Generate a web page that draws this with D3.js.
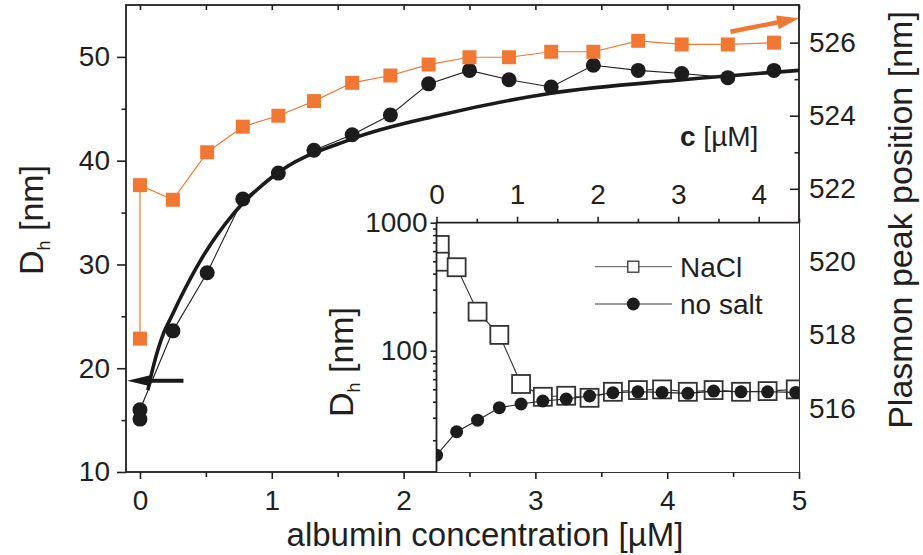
<!DOCTYPE html>
<meta charset="utf-8">
<style>
body{margin:0;background:#fff;}
text{font-family:"Liberation Sans",Arial,Helvetica,sans-serif;fill:#231f20;}
.tl text{font-size:28px;}
.title{font-size:34px;}
.tl line{stroke:#231f20;stroke-width:1.6;}
.tl path{display:none;}
.frame{stroke:#231f20;stroke-width:1.8;fill:none;}
</style>
<body>
<script src="https://d3js.org/d3.v7.min.js"></script>
<script>

// main panel: albumin concentration [uM]
var conc=[0,0,0.25,0.51,0.78,1.05,1.32,1.61,1.90,2.19,2.50,2.80,3.12,3.44,3.78,4.11,4.46,4.81];
var dhNoSalt=[15.1,16.0,23.6,29.2,36.3,38.8,41.0,42.5,44.4,47.4,48.7,47.8,47.1,49.2,48.7,48.4,48.0,48.7];
var plasmon=[517.9,522.1,521.7,523.0,523.7,524.0,524.4,524.9,525.1,525.4,525.6,525.6,525.75,525.75,526.05,525.95,525.95,526.0];
// fit curve
var fitC=[0.06,0.10,0.18,0.24,0.30,0.46,0.71,1.01,1.61,2.28,3.12,4.12,5.0];
var fitD=[17.9,20.1,23.4,25.0,26.6,30.4,34.9,38.5,42.1,44.4,46.5,47.8,48.7];

// inset (log scale)
var insetNaClC=[0.04,0.04,0.25,0.51,0.78,1.05,1.32,1.61,1.90,2.19,2.50,2.80,3.12,3.44,3.78,4.11,4.46];
var insetNaCl=[670,496,449,202,133,55,43.7,44.5,42.9,47.8,49.3,49.9,47.8,49.3,47.8,48.4,49.9];
var insetSaltC=[0,0.25,0.51,0.78,1.05,1.32,1.61,1.90,2.19,2.50,2.80,3.12,3.44,3.78,4.11,4.46];
var insetSalt=[15.3,23.3,28.7,35.9,38.4,40.5,42.0,44.3,47.0,47.8,47.3,46.5,48.4,47.8,47.8,47.3];

// ticks
var xTicks=[0,1,2,3,4,5], xMinor=[0.5,1.5,2.5,3.5,4.5];
var xTop=[0,0.5,1,1.5,2,2.5,3,3.5,4,4.5,5];
var leftTicks=[10,20,30,40,50], leftMinor=[15,25,35,45];
var rightTicks=[516,518,520,522,524,526], rightMinor=[515,517,519,521,523,525];
var insetXTicks=[0,1,2,3,4], insetXMinor=[0.5,1.5,2.5,3.5,4.5];
var insetYTicks=[100,1000], insetYMinor=[20,30,40,50,60,70,80,90,200,300,400,500,600,700,800,900];

// annotation arrows (data units)
var leftArrowX=[0.33,-0.097], leftArrowY=18.8;
var rightArrowX=[4.48,5.0], rightArrowV=[526.3,526.67];

var orange="#f07832";

var svg=d3.select("body").append("svg").attr("width",923).attr("height",555);

var x=d3.scaleLinear().domain([-0.106,5]).range([126,799]);
var yL=d3.scaleLinear().domain([10,55]).range([472,5]);
var yR=d3.scaleLinear().domain([514.25,527.03]).range([472,5]);

var xi=d3.scaleLinear().domain([0,4.5]).range([436.5,799]);
var yi=d3.scaleLog().domain([11.3,1000]).range([472,222.7]);

// ---- main axes
svg.append("g").attr("class","tl").attr("transform","translate(0,472)")
	.call(d3.axisBottom(x).tickValues(xTicks).tickSize(7).tickPadding(11).tickFormat(d3.format("d")));
svg.append("g").attr("class","tl").attr("transform","translate(0,472)")
	.call(d3.axisBottom(x).tickValues(xMinor).tickSize(5).tickFormat(""));
svg.append("g").attr("class","tl").attr("transform","translate(0,5)")
	.call(d3.axisTop(x).tickValues(xTop).tickSize(-5).tickFormat(""));

svg.append("g").attr("class","tl").attr("transform","translate(126,0)")
	.call(d3.axisLeft(yL).tickValues(leftTicks).tickSize(9).tickPadding(7));
svg.append("g").attr("class","tl").attr("transform","translate(126,0)")
	.call(d3.axisLeft(yL).tickValues(leftMinor).tickSize(4.5).tickFormat(""));

svg.append("g").attr("class","tl").attr("transform","translate(799,0)")
	.call(d3.axisRight(yR).tickValues(rightTicks).tickSize(-9).tickPadding(10));
svg.append("g").attr("class","tl").attr("transform","translate(799,0)")
	.call(d3.axisRight(yR).tickValues(rightMinor).tickSize(-4.5).tickFormat(""));

svg.append("rect").attr("class","frame").attr("x",126).attr("y",5).attr("width",673).attr("height",467);

// ---- main data
var fit=fitC.map((c,i)=>[c,fitD[i]]);
svg.append("path").datum(fit)
	.attr("d",d3.line().x(d=>x(d[0])).y(d=>yL(d[1])).curve(d3.curveMonotoneX))
	.attr("fill","none").attr("stroke","#1a1a1a").attr("stroke-width",3.6);

var dh=conc.map((c,i)=>[c,dhNoSalt[i]]);
svg.append("path").datum(dh)
	.attr("d",d3.line().x(d=>x(d[0])).y(d=>yL(d[1])))
	.attr("fill","none").attr("stroke","#231f20").attr("stroke-width",1.1);
svg.selectAll(".dot").data(dh).enter().append("circle")
	.attr("cx",d=>x(d[0])).attr("cy",d=>yL(d[1])).attr("r",7.5).attr("fill","#1c1c1c");

var pl=conc.map((c,i)=>[c,plasmon[i]]);
svg.append("path").datum(pl)
	.attr("d",d3.line().x(d=>x(d[0])).y(d=>yR(d[1])))
	.attr("fill","none").attr("stroke",orange).attr("stroke-width",1.2);
svg.selectAll(".sq").data(pl).enter().append("rect")
	.attr("x",d=>x(d[0])-7).attr("y",d=>yR(d[1])-7).attr("width",14).attr("height",14).attr("fill",orange);

function arrow(x1,y1,x2,y2,head,half,w,color){
	var dx=x2-x1, dy=y2-y1, L=Math.hypot(dx,dy), ux=dx/L, uy=dy/L;
	var bx=x2-ux*head, by=y2-uy*head;
	svg.append("line").attr("x1",x1).attr("y1",y1).attr("x2",bx+ux*2).attr("y2",by+uy*2)
		.attr("stroke",color).attr("stroke-width",w);
	svg.append("path").attr("d",d3.line()([[x2,y2],[bx-uy*half,by+ux*half],[bx+uy*half,by-ux*half]])+"Z")
		.attr("fill",color);
}
arrow(x(leftArrowX[0]),yL(leftArrowY),x(leftArrowX[1]),yL(leftArrowY),23,5.5,4,"#1a1a1a");
arrow(x(rightArrowX[0]),yR(rightArrowV[0]),x(rightArrowX[1]),yR(rightArrowV[1]),22,7,4.5,orange);

// ---- titles
svg.append("text").attr("class","title").style("font-size","33px").attr("x",485).attr("y",546).attr("text-anchor","middle")
	.text("albumin concentration [µM]");
var lt=svg.append("text").attr("class","title").attr("text-anchor","middle")
	.attr("transform","translate(43,220) rotate(-90)");
lt.append("tspan").text("D");
lt.append("tspan").attr("dy",7).style("font-size","18px").text("h");
lt.append("tspan").attr("dy",-7).text(" [nm]");
svg.append("text").attr("class","title").attr("text-anchor","middle")
	.attr("transform","translate(912,220) rotate(-90)").text("Plasmon peak position [nm]");

// ---- inset
var ins=svg.append("g");
ins.append("rect").attr("x",xi.range()[0]).attr("y",yi.range()[1])
	.attr("width",xi.range()[1]-xi.range()[0]).attr("height",yi.range()[0]-yi.range()[1]).attr("fill","#fff");
svg.append("clipPath").attr("id","ic").append("rect")
	.attr("x",xi.range()[0]).attr("y",yi.range()[1])
	.attr("width",xi.range()[1]-xi.range()[0]).attr("height",yi.range()[0]-yi.range()[1]);
var ip=ins.append("g").attr("clip-path","url(#ic)");

var na=insetNaClC.map((c,i)=>[c,insetNaCl[i]]);
ip.append("path").datum(na)
	.attr("d",d3.line().x(d=>xi(d[0])).y(d=>yi(d[1])))
	.attr("fill","none").attr("stroke","#333").attr("stroke-width",1.1);
ip.selectAll(".isq").data(na).enter().append("rect")
	.attr("x",d=>xi(d[0])-9).attr("y",d=>yi(d[1])-9).attr("width",18).attr("height",18)
	.attr("fill","#fff").attr("stroke","#333").attr("stroke-width",1.8);

var ns=insetSaltC.map((c,i)=>[c,insetSalt[i]]);
ip.append("path").datum(ns)
	.attr("d",d3.line().x(d=>xi(d[0])).y(d=>yi(d[1])))
	.attr("fill","none").attr("stroke","#231f20").attr("stroke-width",1.1);
ip.selectAll(".idot").data(ns).enter().append("circle")
	.attr("cx",d=>xi(d[0])).attr("cy",d=>yi(d[1])).attr("r",6.5).attr("fill","#1c1c1c");

ins.append("g").attr("class","tl").attr("transform","translate(0,222.7)")
	.call(d3.axisTop(xi).tickValues(insetXTicks).tickSize(6).tickPadding(12.7).tickFormat(d3.format("d")));
ins.append("g").attr("class","tl").attr("transform","translate(0,222.7)")
	.call(d3.axisTop(xi).tickValues(insetXMinor).tickSize(4).tickFormat(""));
ins.append("g").attr("class","tl").attr("transform","translate(436.5,0)")
	.call(d3.axisLeft(yi).tickValues(insetYTicks).tickSize(6).tickPadding(3).tickFormat(d3.format("d")));
ins.append("g").attr("class","tl").attr("transform","translate(436.5,0)")
	.call(d3.axisLeft(yi).tickValues(insetYMinor).tickSize(3.5).tickFormat(""));
ins.append("path").attr("class","frame").attr("stroke-width",1.6)
	.attr("d",d3.line()([[xi.range()[0],yi.range()[0]],[xi.range()[0],yi.range()[1]],[xi.range()[1],yi.range()[1]]]));

var ct=ins.append("text").style("font-size","28px").attr("x",680).attr("y",145.5);
ct.append("tspan").style("font-weight","bold").text("c");
ct.append("tspan").text(" [µM]");

var it=ins.append("text").attr("class","title").attr("text-anchor","middle")
	.attr("transform","translate(353,362) rotate(-90)");
it.append("tspan").text("D");
it.append("tspan").attr("dy",7).style("font-size","18px").text("h");
it.append("tspan").attr("dy",-7).text(" [nm]");

// legend
var lg=ins.append("g");
lg.append("line").attr("x1",595).attr("x2",672).attr("y1",266.7).attr("y2",266.7).attr("stroke","#777").attr("stroke-width",1.2);
lg.append("rect").attr("x",633.3-5.5).attr("y",266.7-5.5).attr("width",11).attr("height",11)
	.attr("fill","#fff").attr("stroke","#333").attr("stroke-width",1.3);
lg.append("text").style("font-size","28px").attr("x",680).attr("y",277).text("NaCl");
lg.append("line").attr("x1",595).attr("x2",672).attr("y1",304).attr("y2",304).attr("stroke","#333").attr("stroke-width",1.2);
lg.append("circle").attr("cx",633.3).attr("cy",304).attr("r",6.5).attr("fill","#1c1c1c");
lg.append("text").style("font-size","28px").attr("x",680).attr("y",314).text("no salt");

</script>
</body>
